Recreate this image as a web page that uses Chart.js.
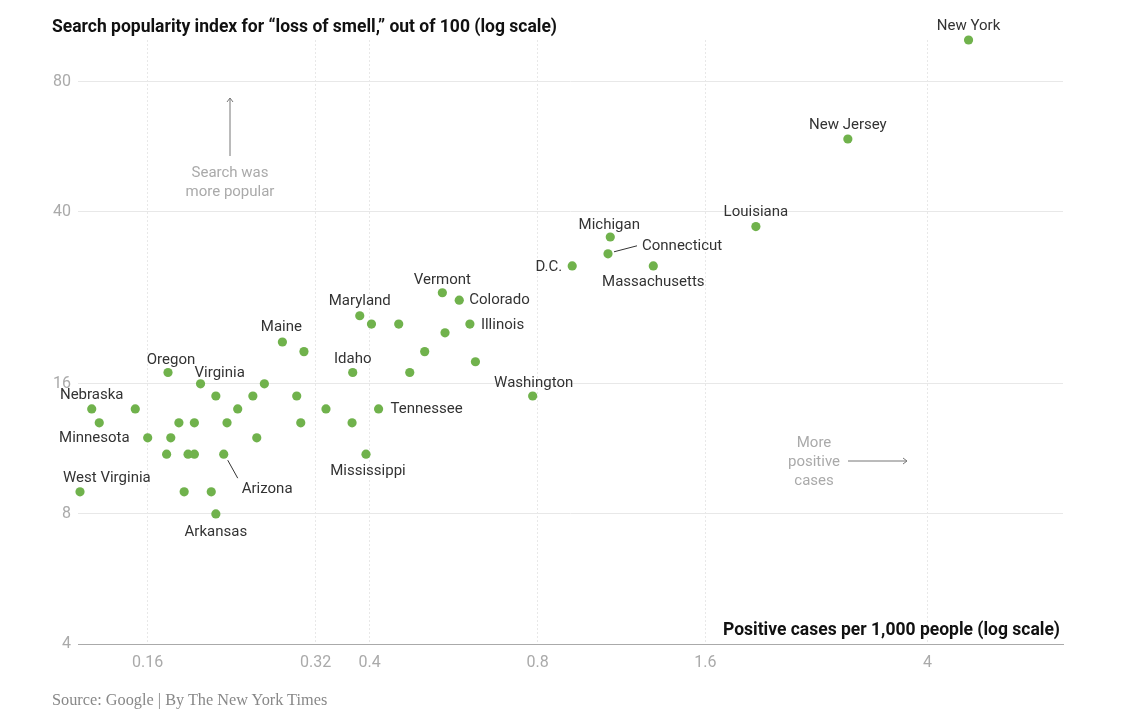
<!DOCTYPE html>
<html>
<head>
<meta charset="utf-8">
<script src="https://cdn.jsdelivr.net/npm/chart.js@4.4.1/dist/chart.umd.min.js"></script>
<style>
    body { margin: 0; background: #fff; }
    #wrap { position: relative; width: 1140px; height: 716px; }
    #chart { position: absolute; left: 0; top: 0; }
    #title { position: absolute; left: 52px; top: 16px; font: bold 17.5px Roboto, sans-serif; color: #111; white-space: nowrap; }
    #source { position: absolute; left: 52px; top: 690px; font: 16.3px "Liberation Serif", serif; color: #888; white-space: nowrap; }
</style>
</head>
<body>
<div id="wrap">
    <canvas id="chart" width="1140" height="716"></canvas>
    <div id="title">Search popularity index for “loss of smell,” out of 100 (log scale)</div>
    <div id="source">Source: Google | By The New York Times</div>
</div>
<script>
// state names ('' = no label on the chart)
const states = [
    'New York', 'New Jersey', 'Louisiana', 'Michigan', 'Connecticut', 'D.C.', 'Massachusetts', 'Washington',
    'Vermont', 'Colorado', 'Illinois', '', '', '', '',
    'Maryland', '', '', 'Maine', '', 'Idaho', '', '', '', 'Tennessee', '', '', 'Mississippi',
    'Oregon', 'Virginia', '', '', 'Nebraska', '', '', '', '', '', '',
    'Minnesota', '', '', '', '', '', 'Arizona', 'West Virginia', '', '', 'Arkansas'
];
// positive cases per 1,000 people
const cases = [
    4.74, 2.88, 1.97, 1.08, 1.07, 0.923, 1.29, 0.784,
    0.540, 0.579, 0.605, 0.546, 0.502, 0.619, 0.472,
    0.384, 0.403, 0.451, 0.279, 0.305, 0.373, 0.259, 0.296, 0.334, 0.415, 0.301, 0.372, 0.394,
    0.174, 0.199, 0.212, 0.247, 0.127, 0.152, 0.232, 0.131, 0.182, 0.194, 0.222,
    0.160, 0.176, 0.251, 0.173, 0.189, 0.194, 0.219, 0.121, 0.186, 0.208, 0.212
];
// search popularity index, out of 100
const search = [
    100, 59, 37, 35, 32, 30, 30, 15,
    26, 25, 22, 21, 19, 18, 17,
    23, 22, 22, 20, 19, 17, 16, 15, 14, 14, 13, 13, 11,
    17, 16, 15, 15, 14, 14, 14, 13, 13, 13, 13,
    12, 12, 12, 11, 11, 11, 11, 9, 9, 9, 8
];
const xTicks = [0.16, 0.32, 0.4, 0.8, 1.6, 4];
const xTickLabels = ['0.16', '0.32', '0.4', '0.8', '1.6', '4'];
const yTicks = [4, 8, 16, 40, 80];
const yTickLabels = ['4', '8', '16', '40', '80'];

// label placement: [dx, dy, align, leader line]
const labelPlace = {
    'New York': [0, -14, 'center'],
    'New Jersey': [0, -14, 'center'],
    'Louisiana': [0, -14, 'center'],
    'Michigan': [-1, -12, 'center'],
    'Connecticut': [34, -8, 'left', [6, -2, 29, -8]],
    'D.C.': [-10, 1, 'right'],
    'Massachusetts': [0, 16, 'center'],
    'Washington': [1, -13, 'center'],
    'Vermont': [0, -13, 'center'],
    'Colorado': [10, 0, 'left'],
    'Illinois': [11, 1, 'left'],
    'Maryland': [0, -15, 'center'],
    'Maine': [-1, -15, 'center'],
    'Idaho': [0, -13, 'center'],
    'Tennessee': [12, 0, 'left'],
    'Mississippi': [2, 17, 'center'],
    'Oregon': [3, -12, 'center'],
    'Virginia': [-6, -11, 'left'],
    'Nebraska': [0, -14, 'center'],
    'Minnesota': [-18, 0, 'right'],
    'West Virginia': [-17, -14, 'left'],
    'Arizona': [18, 35, 'left', [4, 6, 14, 24]],
    'Arkansas': [0, 18, 'center']
};

const labelFont = '15px Roboto, sans-serif';
const noteColor = '#aaa';

const annotations = {
    id: 'annotations',
    afterDatasetsDraw(chart) {
        const ctx = chart.ctx;
        const meta = chart.getDatasetMeta(0);
        ctx.save();

        // state labels
        ctx.font = labelFont;
        ctx.fillStyle = '#333';
        ctx.strokeStyle = '#333';
        ctx.lineWidth = 1;
        ctx.textBaseline = 'middle';
        meta.data.forEach((pt, i) => {
            const name = states[i];
            if (!name || !labelPlace[name]) return;
            const [dx, dy, align, leader] = labelPlace[name];
            ctx.textAlign = align;
            ctx.fillText(name, pt.x + dx, pt.y + dy);
            if (leader) {
                ctx.beginPath();
                ctx.moveTo(pt.x + leader[0], pt.y + leader[1]);
                ctx.lineTo(pt.x + leader[2], pt.y + leader[3]);
                ctx.stroke();
            }
        });

        // axis title along the bottom
        const area = chart.chartArea;
        ctx.font = 'bold 17.5px Roboto, sans-serif';
        ctx.fillStyle = '#111';
        ctx.textAlign = 'right';
        ctx.fillText('Positive cases per 1,000 people (log scale)', area.right - 3, area.bottom - 13);

        // "search was more popular" note
        ctx.font = '15px Roboto, sans-serif';
        ctx.fillStyle = noteColor;
        ctx.textAlign = 'center';
        ctx.fillText('Search was', 230, 173);
        ctx.fillText('more popular', 230, 192);
        ctx.strokeStyle = '#777';
        ctx.beginPath();
        ctx.moveTo(230, 156);
        ctx.lineTo(230, 98);
        ctx.moveTo(227, 102);
        ctx.lineTo(230, 98);
        ctx.lineTo(233, 102);
        ctx.stroke();

        // "more positive cases" note
        ctx.fillText('More', 814, 443);
        ctx.fillText('positive', 814, 462);
        ctx.fillText('cases', 814, 481);
        ctx.beginPath();
        ctx.moveTo(848, 461);
        ctx.lineTo(907, 461);
        ctx.moveTo(903, 458);
        ctx.lineTo(907, 461);
        ctx.lineTo(903, 464);
        ctx.stroke();

        ctx.restore();
    }
};

const ctx = document.getElementById('chart').getContext('2d');
new Chart(ctx, {
    type: 'scatter',
    data: {
        datasets: [{
            data: cases.map((c, i) => ({ x: c, y: search[i] })),
            backgroundColor: '#70b24c',
            borderWidth: 0,
            pointRadius: 4.6,
            clip: false
        }]
    },
    options: {
        responsive: false,
        animation: false,
        layout: { padding: { top: 40, right: 77, bottom: 42, left: 0 } },
        plugins: {
            legend: { display: false },
            tooltip: { enabled: false }
        },
        scales: {
            x: {
                type: 'logarithmic',
                min: 0.12,
                max: 7.0,
                afterBuildTicks: scale => { scale.ticks = xTicks.map(v => ({ value: v })); },
                afterFit: scale => { scale.height = 30; },
                grid: { color: '#e8e8e8', drawTicks: false },
                border: { display: true, color: '#aaa', dash: [2, 2], width: 1 },
                ticks: {
                    autoSkip: false,
                    maxRotation: 0,
                    padding: 9,
                    color: '#aaa',
                    font: { family: 'Roboto', size: 16 },
                    callback: value => xTickLabels[xTicks.indexOf(value)]
                }
            },
            y: {
                type: 'logarithmic',
                min: 4,
                max: 100,
                afterBuildTicks: scale => { scale.ticks = yTicks.map(v => ({ value: v })); },
                afterFit: scale => { scale.width = 78; },
                grid: { color: '#e8e8e8', drawTicks: false },
                border: { display: false },
                ticks: {
                    padding: 7,
                    color: '#aaa',
                    font: { family: 'Roboto', size: 16 },
                    callback: value => yTickLabels[yTicks.indexOf(value)]
                }
            }
        }
    },
    plugins: [annotations]
});
</script>
</body>
</html>
